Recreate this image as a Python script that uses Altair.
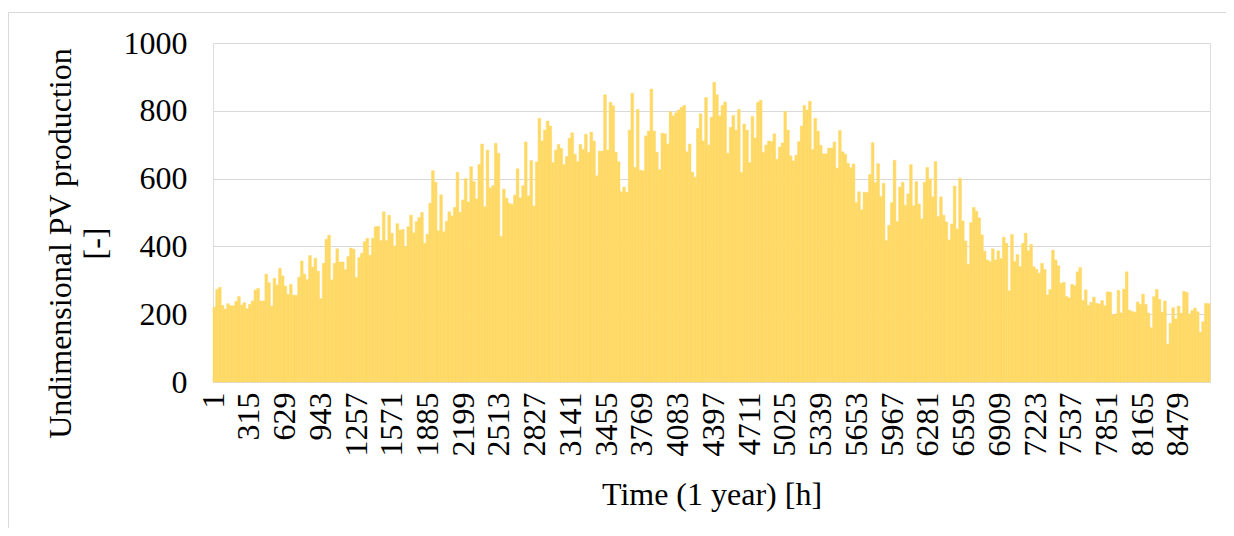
import altair as alt
import pandas as pd

# Daily peak values, one per day, each spanning 24 h
seg1 = [221, 273, 279, 226, 215, 231, 225, 225, 238, 252, 227, 234, 216, 229, 239,
        271, 276, 239, 239, 318, 293, 224, 306, 286, 335, 313, 283, 258, 288, 256,
        256, 309, 357, 318, 302, 373, 339, 365, 327, 246, 350, 421, 433, 301]
seg2 = [350, 393, 354, 354, 331, 370, 395, 392, 308, 367, 380, 414, 424, 374, 424,
        458, 459, 417, 502, 417, 492, 439, 401, 467, 448, 450, 399, 458, 492, 440,
        473, 485, 500, 409, 436, 527, 623, 589, 446, 552, 443, 474, 502, 490, 515, 619]
seg3 = [501, 537, 600, 531, 635, 591, 540, 642, 702, 517, 684, 572, 579, 704, 675,
        429, 569, 542, 527, 524, 551, 629, 543, 579, 708, 549, 653, 519, 649, 778,
        711, 743, 770, 755, 647, 684, 701, 689, 641, 665, 719, 735, 672, 650, 701, 686]
seg4 = [731, 677, 737, 711, 608, 681, 681, 847, 684, 825, 815, 678, 650, 561, 575,
        560, 743, 852, 633, 804, 625, 623, 726, 740, 864, 740, 678, 626, 734, 732,
        702, 797, 785, 794, 802, 810, 816, 679, 702, 619, 604, 748, 791, 711, 839, 699]
seg5 = [781, 884, 847, 785, 816, 826, 675, 751, 786, 743, 804, 618, 761, 743, 647,
        783, 720, 825, 831, 677, 699, 711, 709, 732, 657, 693, 705, 798, 743, 667,
        652, 669, 709, 755, 816, 802, 828, 686, 778, 740, 698, 673, 673, 690, 690, 708]
seg6 = [631, 742, 679, 672, 645, 632, 643, 529, 561, 508, 560, 559, 612, 706, 588,
        644, 547, 586, 417, 462, 529, 654, 473, 575, 589, 521, 555, 641, 520, 591,
        525, 481, 589, 633, 599, 546, 650, 488, 546, 492, 472, 419, 466, 578, 451, 601]
seg7 = [475, 416, 347, 470, 515, 504, 484, 434, 386, 360, 355, 393, 360, 387, 364,
        427, 409, 269, 435, 355, 376, 340, 409, 439, 387, 406, 340, 332, 321, 350,
        332, 257, 273, 389, 360, 343, 291, 294, 252, 248, 288, 284, 325, 338, 240, 272]
seg8 = [226, 235, 250, 232, 230, 240, 225, 266, 265, 198, 201, 270, 204, 274, 325,
        212, 208, 206, 236, 229, 259, 229, 203, 160, 252, 273, 244, 206, 239, 112,
        173, 219, 186, 224, 203, 267, 264, 201, 211, 218, 207, 147, 178, 232, 231]

x_tick_labels = [1, 315, 629, 943, 1257, 1571, 1885, 2199, 2513, 2827, 3141, 3455,
                 3769, 4083, 4397, 4711, 5025, 5339, 5653, 5967, 6281, 6595, 6909,
                 7223, 7537, 7851, 8165, 8479]
y_tick_labels = [0, 200, 400, 600, 800, 1000]

values = seg1 + seg2 + seg3 + seg4 + seg5 + seg6 + seg7 + seg8
hours_per_day = 8760 / len(values)
df = pd.DataFrame({
    "start": [0.5 + i * hours_per_day for i in range(len(values))],
    "end": [0.5 + (i + 1) * hours_per_day for i in range(len(values))],
    "value": values,
})

FONT = "Liberation Serif"

bars = alt.Chart(df).mark_rect(
    color="#FFD966", stroke="#FFD966", strokeWidth=0.5
).encode(
    x=alt.X(
        "start:Q",
        scale=alt.Scale(domain=[0.5, 8760.5], nice=False, zero=False),
        axis=alt.Axis(
            values=x_tick_labels, format="d", labelAngle=270, labelOverlap=False,
            labelFlush=False, ticks=False, tickSize=0, labelPadding=10,
            labelFontSize=32, labelFont=FONT, labelColor="#000000",
            grid=False, domain=True, domainColor="#D9D9D9", domainWidth=1,
            title="Time (1 year) [h]", titleFont=FONT, titleFontSize=32,
            titleFontWeight="normal", titleColor="#000000",
            titleBaseline="alphabetic", titleY=122,
        ),
    ),
    x2="end:Q",
    y=alt.Y(
        "value:Q",
        scale=alt.Scale(domain=[0, 1000], nice=False),
        axis=alt.Axis(
            values=y_tick_labels, format="d", ticks=False, tickSize=0,
            labelPadding=26, labelFontSize=32, labelFont=FONT, labelColor="#000000",
            grid=True, gridColor="#D9D9D9", gridWidth=1, domain=False,
            title=["Undimensional PV production", "[-]"], titleFont=FONT,
            titleFontSize=32, titleFontWeight="normal", titleColor="#000000",
            titleAngle=270, titleAlign="center", titleBaseline="alphabetic",
            titleLineHeight=35, titleX=-143, titleY=200,
        ),
    ),
    y2=alt.datum(0),
)

# Light grey chart-area frame (top and left edges visible in the original)
frame_src = pd.DataFrame({"k": [0]})
frame_left = alt.Chart(frame_src).mark_rule(color="#D9D9D9", strokeWidth=1).encode(
    x=alt.value(-204.5), y=alt.value(-30.5), y2=alt.value(490)
)
frame_top = alt.Chart(frame_src).mark_rule(color="#D9D9D9", strokeWidth=1).encode(
    x=alt.value(-204.5), x2=alt.value(1013), y=alt.value(-30.5)
)

chart = alt.layer(bars, frame_left, frame_top).properties(
    width=997,
    height=339,
    padding={"left": 205, "top": 35, "right": 16, "bottom": 146},
    autosize=alt.AutoSizeParams(type="none"),
).configure_view(stroke=None).configure(background="#FFFFFF")

chart.save("out.html", embed_options={"renderer": "svg", "actions": False})
